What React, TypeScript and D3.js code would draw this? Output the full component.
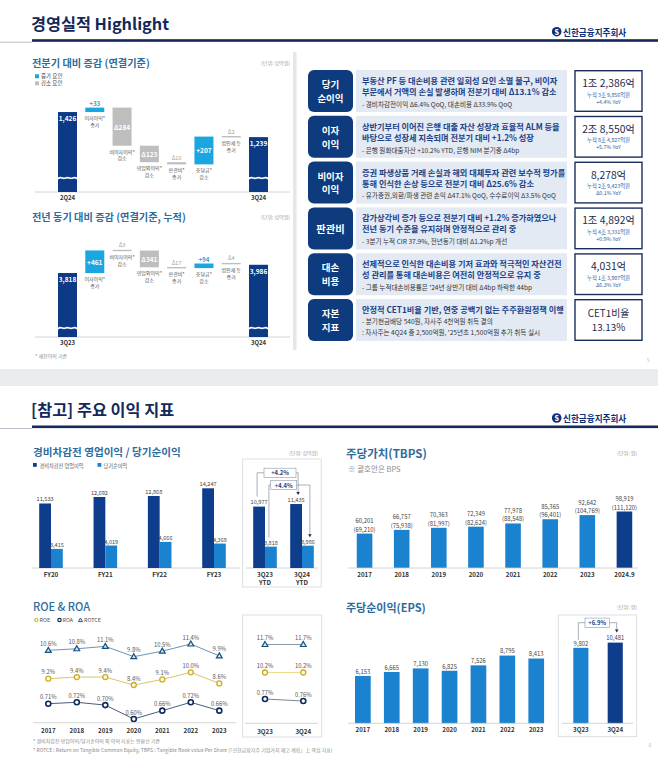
import React from 'react';
import * as d3 from 'd3';

const FONT = "'Noto Sans CJK KR', 'Noto Sans', sans-serif";
const TITLE = '#14285a';
const SUB = '#2e6c9c';
const NAVY = '#0d3a84';
const CYAN = '#1ba6e0';
const GREY = '#bebebe';
const BLUE = '#1b82cf';
const DARK = '#0e3d8c';
const fmt = d3.format(',');

// 전분기 대비 증감 (십억원)
const qoqLabels = ['2Q24', '이자이익*|증가', '비이자이익*|감소', '영업외이익*|감소', '판관비*|증가', '충당금*|감소', '법인세 등|증가', '3Q24'];
const qoqValues = [1426, 33, -284, -123, -16, 207, -2, 1239];
// 전년 동기 대비 증감 (누적)
const yoyLabels = ['3Q23', '이자이익*|증가', '비이자이익*|감소', '영업외이익*|감소', '판관비*|증가', '충당금*|감소', '법인세 등|증가', '3Q24'];
const yoyValues = [3818, 461, -3, -341, -17, 94, -4, 3986];

// 우측 요약 표
const rowTitles = ['당기|순이익', '이자|이익', '비이자|이익', '판관비', '대손|비용', '자본|지표'];
const rowHeadlines = [
  ['부동산 PF 등 대손비용 관련 일회성 요인 소멸 불구, 비이자', '부문에서 거액의 손실 발생하며 전분기 대비 Δ13.1% 감소'],
  ['상반기부터 이어진 은행 대출 자산 성장과 효율적 ALM 등을', '바탕으로 성장세 지속되며 전분기 대비 +1.2% 성장'],
  ['증권 파생상품 거래 손실과 해외 대체투자 관련 보수적 평가를', '통해 인식한 손상 등으로 전분기 대비 Δ25.6% 감소'],
  ['감가상각비 증가 등으로 전분기 대비 +1.2% 증가하였으나', '전년 동기 수준을 유지하며 안정적으로 관리 중'],
  ['선제적으로 인식한 대손비용 기저 효과와 적극적인 자산건전', '성 관리를 통해 대손비용은 여전히 안정적으로 유지 중'],
  ['안정적 CET1비율 기반, 연중 공백기 없는 주주환원정책 이행'],
];
const rowNotes = [
  ['- 경비차감전이익 Δ6.4% QoQ, 대손비용 Δ33.9% QoQ'],
  ['- 은행 원화대출자산 +10.2% YTD, 은행 NIM 분기중 Δ4bp'],
  ['- 유가증권,외환/파생 관련 손익 Δ47.1% QoQ, 수수료이익 Δ3.5% QoQ'],
  ['- 3분기 누적 CIR 37.9%, 전년동기 대비 Δ1.2%p 개선'],
  ["-  그룹 누적대손비용률은 '24년 상반기 대비 Δ4bp 하락한 44bp"],
  ['- 분기현금배당 540원, 자사주 4천억원 취득 결의', ": 자사주는 4Q24 중 2,500억원, '25년초 1,500억원 추가 취득 실시"],
];
const rowAmounts = ['1조 2,386억', '2조 8,550억', '8,278억', '1조 4,892억', '4,031억', 'CET1비율|13.13%'];
const rowCumulative = ['누적 3조 9,856억원', '누적 8조 4,927억원', '누적 2조 9,423억원', '누적 4조 3,331억원', '누적 1조 3,907억원', ''];
const rowYoY = ['+4.4% YoY', '+5.7% YoY', 'Δ0.1% YoY', '+0.9% YoY', 'Δ6.3% YoY', ''];

// 경비차감전 영업이익 / 당기순이익 (십억원)
const fyYears = ['FY20', 'FY21', 'FY22', 'FY23'];
const fyOperating = [11533, 12692, 12868, 14247];
const fyNet = [3415, 4019, 4666, 4368];
const ytdPeriods = ['3Q23|YTD', '3Q24|YTD'];
const ytdOperating = [10977, 11435];
const ytdNet = [3818, 3986];
const ytdOpGrowth = '+4.2%';
const ytdNetGrowth = '+4.4%';

// TBPS / BPS (원)
const tbpsYears = ['2017', '2018', '2019', '2020', '2021', '2022', '2023', '2024.9'];
const tbpsValues = [60201, 66757, 70363, 72349, 77978, 85365, 92642, 98919];
const bpsValues = [69210, 75938, 81997, 82624, 88548, 96401, 104769, 111120];

// ROE & ROA (%)
const ratioYears = ['2017', '2018', '2019', '2020', '2021', '2022', '2023'];
const rotceValues = [10.6, 10.8, 11.1, 9.8, 10.5, 11.4, 9.9];
const roeValues = [9.2, 9.4, 9.4, 8.4, 9.1, 10.0, 8.6];
const roaValues = [0.71, 0.72, 0.7, 0.6, 0.66, 0.72, 0.66];
const ratioYtd = ['3Q23', '3Q24'];
const rotceYtd = [11.7, 11.7];
const roeYtd = [10.2, 10.2];
const roaYtd = [0.77, 0.76];

// EPS (원)
const epsYears = ['2017', '2018', '2019', '2020', '2021', '2022', '2023'];
const epsValues = [6153, 6665, 7130, 6825, 7526, 8795, 8413];
const epsYtd = ['3Q23', '3Q24'];
const epsYtdValues = [9802, 10481];
const epsGrowth = '+6.9%';

function Logo({ y }: { y: number }) {
  return (
    <g>
      <circle cx={556.7} cy={y} r={4.8} fill="#0b2f7c" />
      <text x={556.7} y={y + 0.3} fontSize={7} fontWeight={900} fill="#fff" textAnchor="middle" dominantBaseline="central">S</text>
      <text x={563} y={y + 0.3} fontSize={8.6} fontWeight={700} fill="#0b2f7c" dominantBaseline="central">신한금융지주회사</text>
    </g>
  );
}

function Header({ title, cy }: { title: string; cy: number }) {
  return (
    <g>
      <text x={31} y={cy} fontSize={16.3} fontWeight={700} fill={TITLE} dominantBaseline="central">{title}</text>
      <line x1={0} x2={32} y1={cy + 19.5} y2={cy + 19.5} stroke="#a7afb8" strokeWidth={0.8} />
      <rect x={32} y={cy + 16.5} width={626} height={2.6} fill={TITLE} />
      <Logo y={cy + 9} />
    </g>
  );
}

function Waterfall({ labels, values, domain, range, axisY, breakGap }: any) {
  const x = d3.scalePoint<string>().domain(labels.map((_: string, i: number) => String(i))).range([67.5, 258.5]);
  const y = d3.scaleLinear().domain(domain).range(range);
  const bw = 19;
  const n = values.length;
  let run = 0;
  const bars = values.map((v: number, i: number) => {
    const cx = x(String(i))!;
    if (i === 0 || i === n - 1) {
      if (i === 0) run = v;
      return { i, cx, top: y(v), bottom: axisY, kind: 'total', v };
    }
    const from = run;
    run += v;
    return { i, cx, top: Math.min(y(from), y(run)), bottom: Math.max(y(from), y(run)), kind: v > 0 ? 'up' : 'down', v };
  });
  const wave = d3.line<[number, number]>().curve(d3.curveBasis);
  return (
    <g>
      <line x1={35} x2={290} y1={axisY} y2={axisY} stroke="#c9c9c9" strokeWidth={0.8} />
      {bars.map((b: any) => {
        const h = b.bottom - b.top;
        const small = h < 10;
        const fill = b.kind === 'total' ? NAVY : b.kind === 'up' ? CYAN : GREY;
        const txt = b.kind === 'total' ? fmt(b.v) : (b.v > 0 ? '+' : 'Δ') + fmt(Math.abs(b.v));
        const lines = labels[b.i].split('|');
        const rh = Math.max(h, 1.4);
        const ry = small ? (b.top + b.bottom) / 2 - rh / 2 : b.top;
        const wy = axisY - breakGap;
        const pts: [number, number][] = d3.range(7).map((k) => [b.cx - bw / 2 - 1 + (k * (bw + 2)) / 6, wy + (k % 2 === 0 ? 1.1 : -1.1)]);
        return (
          <g key={b.i}>
            <rect x={b.cx - bw / 2} y={ry} width={bw} height={rh} fill={fill} />
            {b.kind === 'total' && (
              <>
                <path d={wave(pts) || ''} stroke="#fff" strokeWidth={1.6} fill="none" />
                <text x={b.cx} y={b.top + 6} fontSize={6.5} fontWeight={700} fill="#fff" textAnchor="middle" dominantBaseline="central">{txt}</text>
                <text x={b.cx} y={axisY + 5} fontSize={6} fontWeight={700} fill="#333" textAnchor="middle" dominantBaseline="central">{labels[b.i]}</text>
              </>
            )}
            {b.kind !== 'total' && (
              <>
                {small ? (
                  <text x={b.cx} y={ry - 4.5} fontSize={b.kind === 'up' ? 6.2 : 5.6} fontWeight={b.kind === 'up' ? 700 : 400} fill={b.kind === 'up' ? CYAN : '#a3a3a3'} textAnchor="middle" dominantBaseline="central">{txt}</text>
                ) : (
                  <text x={b.cx} y={(b.top + b.bottom) / 2} fontSize={6.5} fontWeight={700} fill="#fff" textAnchor="middle" dominantBaseline="central">{txt}</text>
                )}
                <text x={b.cx} y={ry + rh + 5} fontSize={5} fill="#555" textAnchor="middle" dominantBaseline="central">
                  {lines.map((l: string, k: number) => (
                    <tspan key={k} x={b.cx} dy={k === 0 ? 0 : 6.5}>{l}</tspan>
                  ))}
                </text>
              </>
            )}
          </g>
        );
      })}
    </g>
  );
}

function TopSlide() {
  const band = d3.scaleBand<number>().domain(d3.range(rowTitles.length)).range([70, 341]).paddingInner(0.083);
  return (
    <g>
      <Header title="경영실적 Highlight" cy={22.7} />
      <rect x={293} y={52} width={3.5} height={298} fill="#e3e6ea" />

      <text x={32} y={62.7} fontSize={10.2} fontWeight={700} fill={SUB} dominantBaseline="central">전분기 대비 증감 (연결기준)</text>
      <text x={290} y={62.7} fontSize={5} fill="#9a9a9a" textAnchor="end" dominantBaseline="central">(단위: 십억원)</text>
      <rect x={35} y={74.3} width={4} height={4} fill={CYAN} />
      <text x={41} y={76.3} fontSize={5.5} fill="#444" dominantBaseline="central">증가 요인</text>
      <rect x={35} y={81.3} width={4} height={4} fill={GREY} />
      <text x={41} y={83.3} fontSize={5.5} fill="#444" dominantBaseline="central">감소 요인</text>
      <Waterfall labels={qoqLabels} values={qoqValues} domain={[830, 1430]} range={[192, 111.5]} axisY={192} breakGap={14} />

      <text x={32} y={216.7} fontSize={10.2} fontWeight={700} fill={SUB} dominantBaseline="central">전년 동기 대비 증감 (연결기준, 누적)</text>
      <text x={290} y={216.7} fontSize={5} fill="#9a9a9a" textAnchor="end" dominantBaseline="central">(단위: 십억원)</text>
      <Waterfall labels={yoyLabels} values={yoyValues} domain={[2500, 4300]} range={[337.6, 249.4]} axisY={337} breakGap={9} />
      <text x={35} y={355.7} fontSize={5} fill="#8a8a8a" dominantBaseline="central">* 세전이익 기준</text>

      {rowTitles.map((t, i) => {
        const top = band(i)!;
        const h = band.bandwidth();
        const cy = top + h / 2;
        const tl = t.split('|');
        const amt = rowAmounts[i].split('|');
        return (
          <g key={i}>
            <rect x={308} y={top} width={45} height={h} rx={6} fill="#0d3b7e" />
            {tl.map((l, k) => (
              <text key={k} x={330.5} y={cy + (k - (tl.length - 1) / 2) * 13.8} fontSize={tl.length > 1 ? 9.5 : 10.3} fontWeight={700} fill="#fff" textAnchor="middle" dominantBaseline="central">{l}</text>
            ))}
            <rect x={356} y={top} width={211} height={h} fill="#e3eaf3" />
            {rowHeadlines[i].map((l, k) => (
              <text key={k} x={362} y={top + 10 + k * 11} fontSize={8.2} fontWeight={700} fill="#1c3f86" dominantBaseline="central">{l}</text>
            ))}
            {rowNotes[i].map((l, k) => (
              <text key={k} x={362} y={top + (rowHeadlines[i].length === 2 ? 33.8 : 21.5) + k * 11.5} fontSize={6.6} fill="#333" dominantBaseline="central">{l}</text>
            ))}
            <rect x={575} y={top + 0.7} width={67} height={h - 1.4} fill="#fff" stroke="#1b2f5e" strokeWidth={1.4} />
            {amt.length === 1 ? (
              <>
                <text x={608.5} y={top + 12.5} fontSize={10.3} fill="#1d2a4d" textAnchor="middle" dominantBaseline="central">{amt[0]}</text>
                <text x={608.5} y={top + 24.5} fontSize={5.3} fill="#2b5ea9" textAnchor="middle" dominantBaseline="central">{rowCumulative[i]}</text>
                <text x={608.5} y={top + 31.5} fontSize={5.3} fill="#2b5ea9" textAnchor="middle" dominantBaseline="central">{rowYoY[i]}</text>
              </>
            ) : (
              amt.map((l, k) => (
                <text key={k} x={608.5} y={cy + (k - 0.5) * 14.4} fontSize={9.8} fill="#1d2a4d" textAnchor="middle" dominantBaseline="central">{l}</text>
              ))
            )}
          </g>
        );
      })}
      <text x={648.3} y={360} fontSize={4.5} fill="#b0b0b0" textAnchor="middle" dominantBaseline="central">5</text>
    </g>
  );
}

function Bracket({ x1, y1, x2, y2, midY, boxX, boxW, label }: any) {
  return (
    <g>
      <path d={`M${x1},${y1}V${midY}H${boxX}`} stroke="#6f7b88" strokeWidth={0.6} fill="none" />
      <path d={`M${boxX + boxW},${midY}H${x2}V${y2 - 2.5}`} stroke="#6f7b88" strokeWidth={0.6} fill="none" />
      <path d={`M${x2 - 1.8},${y2 - 3}L${x2 + 1.8},${y2 - 3}L${x2},${y2}Z`} fill="#1b2a4f" />
      <rect x={boxX} y={midY - 4.6} width={boxW} height={9.2} fill="#fff" stroke="#8d98a4" strokeWidth={0.6} />
      <text x={boxX + boxW / 2} y={midY} fontSize={5.8} fontWeight={700} fill="#1c3f84" textAnchor="middle" dominantBaseline="central">{label}</text>
    </g>
  );
}

function EarningsChart() {
  const y = d3.scaleLinear().domain([0, 14247]).range([568, 488.3]);
  const xFy = d3.scalePoint<string>().domain(fyYears).range([51, 214]);
  const xYtd = d3.scalePoint<string>().domain(ytdPeriods).range([265, 302]);
  const bw = 11.8;
  const group = (cx: number, op: number, net: number, key: string, label: string) => (
    <g key={key}>
      <rect x={cx - bw} y={y(op)} width={bw} height={y(0) - y(op)} fill={DARK} />
      <rect x={cx} y={y(net)} width={bw} height={y(0) - y(net)} fill={BLUE} />
      <text x={cx - bw / 2} y={y(op) - 4.3} fontSize={5.6} fill="#444" textAnchor="middle" dominantBaseline="central">{fmt(op)}</text>
      <text x={cx + bw / 2} y={y(net) - 3.8} fontSize={5.6} fill="#444" textAnchor="middle" dominantBaseline="central">{fmt(net)}</text>
      <text x={cx} y={574.3} fontSize={6.3} fontWeight={700} fill="#333" textAnchor="middle" dominantBaseline="central">
        {label.split('|').map((l, k) => (
          <tspan key={k} x={cx} dy={k === 0 ? 0 : 8}>{l}</tspan>
        ))}
      </text>
    </g>
  );
  const c0 = xYtd(ytdPeriods[0])!;
  const c1 = xYtd(ytdPeriods[1])!;
  return (
    <g>
      <text x={33} y={451.7} fontSize={10.6} fontWeight={700} fill={SUB} dominantBaseline="central">경비차감전 영업이익 / 당기순이익</text>
      <rect x={33} y={463} width={3.8} height={3.8} fill={DARK} />
      <text x={39.5} y={465} fontSize={5.2} fill="#555" dominantBaseline="central">경비차감전 영업이익</text>
      <rect x={97.5} y={463} width={3.8} height={3.8} fill={BLUE} />
      <text x={103.5} y={465} fontSize={5.2} fill="#555" dominantBaseline="central">당기순이익</text>
      <text x={318} y={452.7} fontSize={5} fill="#9a9a9a" textAnchor="end" dominantBaseline="central">(단위: 십억원)</text>
      <line x1={32} x2={240} y1={y(0)} y2={y(0)} stroke="#c9c9c9" strokeWidth={0.8} />
      {fyYears.map((f, i) => group(xFy(f)!, fyOperating[i], fyNet[i], f, f))}
      <rect x={242.7} y={459} width={78.5} height={128} fill="none" stroke="#d2d8df" strokeWidth={0.8} />
      <line x1={246} x2={318} y1={y(0)} y2={y(0)} stroke="#c9c9c9" strokeWidth={0.8} />
      {ytdPeriods.map((p, i) => group(xYtd(p)!, ytdOperating[i], ytdNet[i], p, p))}
      <Bracket x1={c0 - bw / 2 - 2} y1={y(ytdOperating[0]) - 10} x2={c1 - bw / 2 + 2} y2={y(ytdOperating[1]) - 9} midY={472.8} boxX={264} boxW={32} label={ytdOpGrowth} />
      <Bracket x1={c0 + bw / 2 - 2} y1={y(ytdNet[0]) - 9} x2={c1 + bw / 2 + 2} y2={y(ytdNet[1]) - 8.5} midY={485} boxX={270.7} boxW={26} label={ytdNetGrowth} />
    </g>
  );
}

function TbpsChart() {
  const x = d3.scaleBand<string>().domain(tbpsYears).range([346, 643]).paddingInner(0.58).paddingOuter(0.29);
  const y = d3.scaleLinear().domain([0, 98919]).range([568, 511.5]);
  return (
    <g>
      <text x={346} y={452.7} fontSize={11.5} fontWeight={700} fill={SUB} dominantBaseline="central">주당가치(TBPS)</text>
      <text x={348} y={468} fontSize={7.5} fill="#8c8c8c" dominantBaseline="central">※ 괄호안은 BPS</text>
      <text x={637} y={452.7} fontSize={5} fill="#9a9a9a" textAnchor="end" dominantBaseline="central">(단위: 원)</text>
      {tbpsYears.map((yr, i) => {
        const cx = x(yr)! + x.bandwidth() / 2;
        const top = y(tbpsValues[i]);
        return (
          <g key={yr}>
            <rect x={x(yr)} y={top} width={x.bandwidth()} height={y(0) - top} fill={i === tbpsYears.length - 1 ? DARK : BLUE} />
            <text x={cx} y={top - 13} fontSize={5.9} fill="#444" textAnchor="middle" dominantBaseline="central">{fmt(tbpsValues[i])}</text>
            <text x={cx} y={top - 4.5} fontSize={5.9} fill="#444" textAnchor="middle" dominantBaseline="central">({fmt(bpsValues[i])})</text>
            <text x={cx} y={574.5} fontSize={6.2} fontWeight={700} fill="#333" textAnchor="middle" dominantBaseline="central">{yr}</text>
          </g>
        );
      })}
      <line x1={348} x2={638} y1={y(0)} y2={y(0)} stroke="#c9c9c9" strokeWidth={0.8} />
    </g>
  );
}

function Triangle({ x, y }: { x: number; y: number }) {
  return <path d={`M${x},${y - 3}L${x + 2.9},${y + 2}L${x - 2.9},${y + 2}Z`} fill="#d6e5f2" stroke="#16507f" strokeWidth={1.2} />;
}

function RatioSeries({ xs, vals, y, kind, color, labelFmt }: any) {
  const line = d3.line<number>().x((_, i) => xs[i]).y((v) => y(v));
  return (
    <g>
      <path d={line(vals) || ''} stroke={color} strokeWidth={1} fill="none" />
      {vals.map((v: number, i: number) => (
        <g key={i}>
          {kind === 'tri' ? (
            <Triangle x={xs[i]} y={y(v)} />
          ) : kind === 'roe' ? (
            <circle cx={xs[i]} cy={y(v)} r={2.5} fill="#fff8d6" stroke="#c9ad2c" strokeWidth={1.3} />
          ) : (
            <circle cx={xs[i]} cy={y(v)} r={2.5} fill="#fff" stroke="#0f2a5e" strokeWidth={1.6} />
          )}
          <text x={xs[i]} y={y(v) - 7} fontSize={5.8} fill="#555" textAnchor="middle" dominantBaseline="central">{labelFmt(v)}</text>
        </g>
      ))}
    </g>
  );
}

function RatioChart() {
  const x = d3.scalePoint<string>().domain(ratioYears).range([48.3, 219.3]);
  const xy = d3.scalePoint<string>().domain(ratioYtd).range([265, 303.3]);
  const xs = ratioYears.map((d) => x(d)!);
  const xsY = ratioYtd.map((d) => xy(d)!);
  const yRotce = d3.scaleLinear().domain([9.8, 11.4]).range([656.7, 644]);
  const yRoe = d3.scaleLinear().domain([8.4, 10.0]).range([685, 672.3]);
  const yRoa = d3.scaleLinear().domain([0.6, 0.72]).range([719, 702.3]);
  const yRotceY = d3.scaleLinear().domain([11, 11.7]).range([650, 644.5]);
  const yRoeY = d3.scaleLinear().domain([9.5, 10.2]).range([678, 672.5]);
  const yRoaY = d3.scaleLinear().domain([0.76, 0.77]).range([701, 699]);
  const f1 = (v: number) => d3.format('.1f')(v) + '%';
  const f2 = (v: number) => d3.format('.2f')(v) + '%';
  return (
    <g>
      <text x={33} y={605.7} fontSize={11} fontWeight={500} fill={SUB} dominantBaseline="central">ROE &amp; ROA</text>
      <circle cx={36.3} cy={620} r={1.7} fill="#fff8d6" stroke="#c9ad2c" strokeWidth={1} />
      <text x={39.5} y={620} fontSize={5.4} fill="#555" dominantBaseline="central">ROE</text>
      <circle cx={59.5} cy={620} r={1.7} fill="#fff" stroke="#0f2a5e" strokeWidth={1.2} />
      <text x={62.5} y={620} fontSize={5.4} fill="#555" dominantBaseline="central">ROA</text>
      <path d="M80.5,618L82.6,621.6L78.4,621.6Z" fill="#d6e5f2" stroke="#16507f" strokeWidth={0.9} />
      <text x={84} y={620} fontSize={5.4} fill="#555" dominantBaseline="central">ROTCE</text>

      <RatioSeries xs={xs} vals={rotceValues} y={yRotce} kind="tri" color="#6e93b4" labelFmt={f1} />
      <RatioSeries xs={xs} vals={roeValues} y={yRoe} kind="roe" color="#d8c866" labelFmt={f1} />
      <RatioSeries xs={xs} vals={roaValues} y={yRoa} kind="roa" color="#4d5c78" labelFmt={f2} />
      <line x1={33} x2={236} y1={722.7} y2={722.7} stroke="#c9c9c9" strokeWidth={0.8} />
      {ratioYears.map((d, i) => (
        <text key={d} x={xs[i]} y={730} fontSize={6.2} fontWeight={700} fill="#333" textAnchor="middle" dominantBaseline="central">{d}</text>
      ))}

      <rect x={242.7} y={615} width={79} height={122} fill="none" stroke="#d2d8df" strokeWidth={0.8} />
      <RatioSeries xs={xsY} vals={rotceYtd} y={yRotceY} kind="tri" color="#8a98a8" labelFmt={f1} />
      <RatioSeries xs={xsY} vals={roeYtd} y={yRoeY} kind="roe" color="#e8dc8c" labelFmt={f1} />
      <RatioSeries xs={xsY} vals={roaYtd} y={yRoaY} kind="roa" color="#7d8594" labelFmt={f2} />
      <line x1={245} x2={318} y1={723.3} y2={723.3} stroke="#c9c9c9" strokeWidth={0.8} />
      {ratioYtd.map((d, i) => (
        <text key={d} x={xsY[i]} y={731} fontSize={6.2} fontWeight={700} fill="#333" textAnchor="middle" dominantBaseline="central">{d}</text>
      ))}

      <text x={33} y={740} fontSize={5} fill="#8a8a8a" dominantBaseline="central">* 경비차감전 영업이익/당기순이익 외 이익 지표는 연환산 기준</text>
      <text x={33} y={749} fontSize={5} fill="#8a8a8a" dominantBaseline="central">* ROTCE : Return on Tangible Common Equity, TBPS : Tangible Book value Per Share (「신한금융지주 기업가치 제고 계획」上 핵심 지표)</text>
    </g>
  );
}

function EpsChart() {
  const x = d3.scaleBand<string>().domain(epsYears).range([347.8, 551.3]).paddingInner(0.457).paddingOuter(0.25);
  const xy = d3.scaleBand<string>().domain(epsYtd).range([556.1, 640]).paddingInner(0.56).paddingOuter(0.5);
  const y = d3.scaleLinear().domain([0, 10481]).range([723.3, 642.6]);
  const bar = (xx: number, w: number, v: number, label: string, color: string) => (
    <g key={label}>
      <rect x={xx} y={y(v)} width={w} height={y(0) - y(v)} fill={color} />
      <text x={xx + w / 2} y={y(v) - 4.7} fontSize={5.9} fill="#444" textAnchor="middle" dominantBaseline="central">{fmt(v)}</text>
      <text x={xx + w / 2} y={729.5} fontSize={6.2} fontWeight={700} fill="#333" textAnchor="middle" dominantBaseline="central">{label}</text>
    </g>
  );
  const c0 = xy(epsYtd[0])! + xy.bandwidth() / 2;
  const c1 = xy(epsYtd[1])! + xy.bandwidth() / 2;
  return (
    <g>
      <text x={346} y={606.7} fontSize={11} fontWeight={700} fill={SUB} dominantBaseline="central">주당순이익(EPS)</text>
      <text x={637} y={606} fontSize={5} fill="#9a9a9a" textAnchor="end" dominantBaseline="central">(단위: 원)</text>
      {epsYears.map((yr, i) => bar(x(yr)!, x.bandwidth(), epsValues[i], yr, BLUE))}
      <line x1={348} x2={543} y1={y(0)} y2={y(0)} stroke="#c9c9c9" strokeWidth={0.8} />
      <rect x={558.3} y={615} width={78.4} height={121.7} fill="none" stroke="#d2d8df" strokeWidth={0.8} />
      {epsYtd.map((p, i) => bar(xy(p)!, xy.bandwidth(), epsYtdValues[i], p, i === 1 ? DARK : BLUE))}
      <line x1={561.7} x2={633.3} y1={y(0)} y2={y(0)} stroke="#c9c9c9" strokeWidth={0.8} />
      <Bracket x1={c0 - 2.5} y1={y(epsYtdValues[0]) - 8} x2={c1 + 1.5} y2={y(epsYtdValues[1]) - 10} midY={622.7} boxX={585} boxW={24.3} label={epsGrowth} />
      <text x={650} y={745} fontSize={4.5} fill="#b0b0b0" textAnchor="middle" dominantBaseline="central">6</text>
    </g>
  );
}

function BottomSlide() {
  return (
    <g>
      <rect x={0} y={369} width={658} height={17} fill="#e9ebee" />
      <Header title="[참고] 주요 이익 지표" cy={409} />
      <EarningsChart />
      <TbpsChart />
      <RatioChart />
      <EpsChart />
    </g>
  );
}

export default function App() {
  return (
    <div style={{ position: 'absolute', left: 0, top: 0 }}>
      <svg width={658} height={758} style={{ display: 'block', fontFamily: FONT }}>
        <rect width={658} height={758} fill="#fff" />
        <TopSlide />
        <BottomSlide />
      </svg>
    </div>
  );
}
